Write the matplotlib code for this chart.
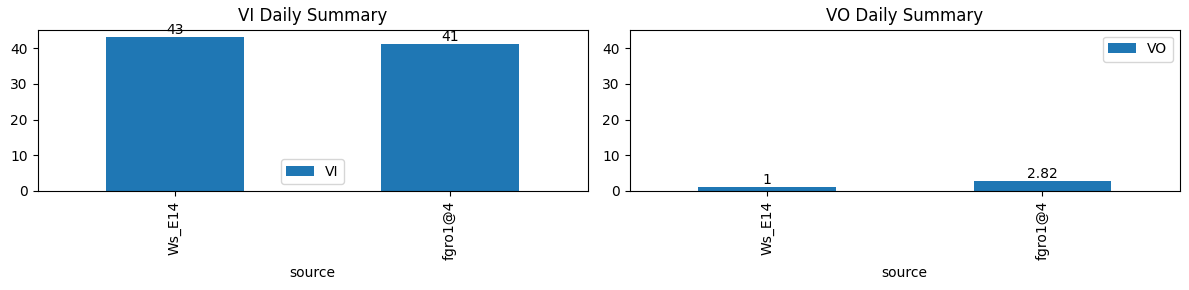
import matplotlib
matplotlib.use("Agg")
import matplotlib.pyplot as plt
import numpy as np

categories = ["Ws_E14", "fgro1@4"]
vi_values = [43, 41]
vo_values = [1, 2.82]

W, H = 1189, 290
fig = plt.figure(figsize=(W / 100, H / 100), dpi=100)
ax = fig.add_axes([37.5 / W, (H - 191) / H, 550 / W, 161.4 / H])
ax2 = fig.add_axes([629.5 / W, (H - 191) / H, 550.5 / W, 161.4 / H])
x = np.arange(len(categories))

bars = ax.bar(x, vi_values, width=0.5, color="#1f77b4", label="VI")
ax.bar_label(bars, labels=[f"{v:g}" for v in vi_values])
ax.set_xticks(x)
ax.set_xticklabels(categories, rotation=90)
ax.set_xlim(-0.5, 1.5)
ax.set_xlabel("source")
ax.set_title("VI Daily Summary")
ax.legend(loc="best")

bars2 = ax2.bar(x, vo_values, width=0.5, color="#1f77b4", label="VO")
ax2.bar_label(bars2, labels=[f"{v:g}" for v in vo_values])
ax2.set_xticks(x)
ax2.set_xticklabels(categories, rotation=90)
ax2.set_xlim(-0.5, 1.5)
ax2.set_ylim(ax.get_ylim())
ax2.set_xlabel("source")
ax2.set_title("VO Daily Summary")
ax2.legend(loc="best")

fig.savefig("out.png", dpi=100)
